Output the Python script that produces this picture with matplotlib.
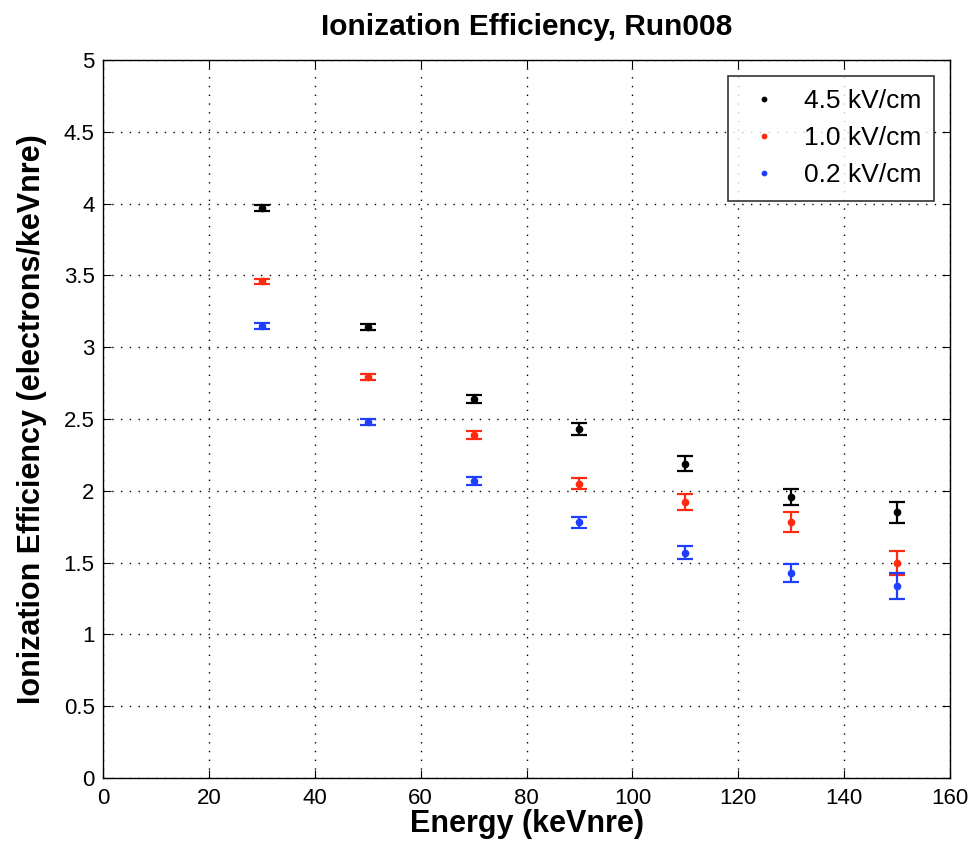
import matplotlib.pyplot as plt
import numpy as np

plt.rcParams['font.family'] = ['Liberation Sans', 'DejaVu Sans']

# energy bins (keVnre)
energy = [30, 50, 70, 90, 110, 130, 150]

# ionization efficiency and errors for each drift field
eff_45 = [3.97, 3.14, 2.64, 2.43, 2.19, 1.96, 1.85]
err_45 = [0.020, 0.020, 0.028, 0.040, 0.052, 0.056, 0.073]
eff_10 = [3.46, 2.79, 2.39, 2.05, 1.92, 1.78, 1.50]
err_10 = [0.018, 0.020, 0.028, 0.038, 0.056, 0.070, 0.083]
eff_02 = [3.15, 2.48, 2.07, 1.78, 1.57, 1.43, 1.34]
err_02 = [0.020, 0.020, 0.028, 0.038, 0.045, 0.063, 0.090]

labels = ['4.5 kV/cm', '1.0 kV/cm', '0.2 kV/cm']
colors = ['black', '#ff2a10', '#1f3fff']

fig = plt.figure(figsize=(9.75, 8.44), dpi=100)
ax = fig.add_axes([0.1056, 0.0782, 0.8688, 0.8507])

for y, e, c, lab in zip([eff_45, eff_10, eff_02], [err_45, err_10, err_02], colors, labels):
    ax.errorbar(energy, y, yerr=e, fmt='none', ecolor=c,
                elinewidth=1.6, capsize=5.5, capthick=1.6)
    ax.plot(energy, y, '.', color=c, markersize=9, label=lab)

ax.set_xlim(0, 160)
ax.set_ylim(0, 5)
ax.set_xticks(np.arange(0, 161, 20))
ax.set_yticks(np.arange(0, 5.01, 0.5))
ax.set_yticklabels(['0', '0.5', '1', '1.5', '2', '2.5', '3', '3.5', '4', '4.5', '5'])
ax.grid(True, color='black', linestyle=(0, (1, 5.3)), linewidth=1.0)
ax.tick_params(direction='in', top=True, right=True, labelsize=16, length=6)
ax.tick_params(axis='x', pad=7)
ax.tick_params(axis='y', pad=6)
for s in ax.spines.values():
    s.set_linewidth(1.0)

ax.set_title('Ionization Efficiency, Run008', fontsize=21.5, fontweight='bold', pad=18)
ax.set_xlabel('Energy (keVnre)', fontsize=22, fontweight='bold', labelpad=0)
ax.set_ylabel('Ionization Efficiency (electrons/keVnre)', fontsize=22,
              fontweight='bold', labelpad=12)

leg = ax.legend(loc='upper right', fontsize=19, frameon=True, fancybox=False,
                edgecolor='black', borderaxespad=0.6, handlelength=1.7,
                handletextpad=0.65, labelspacing=0.5, borderpad=0.5,
                markerscale=0.7)
leg.get_frame().set_linewidth(1.2)

fig.savefig('out.png', dpi=100)
